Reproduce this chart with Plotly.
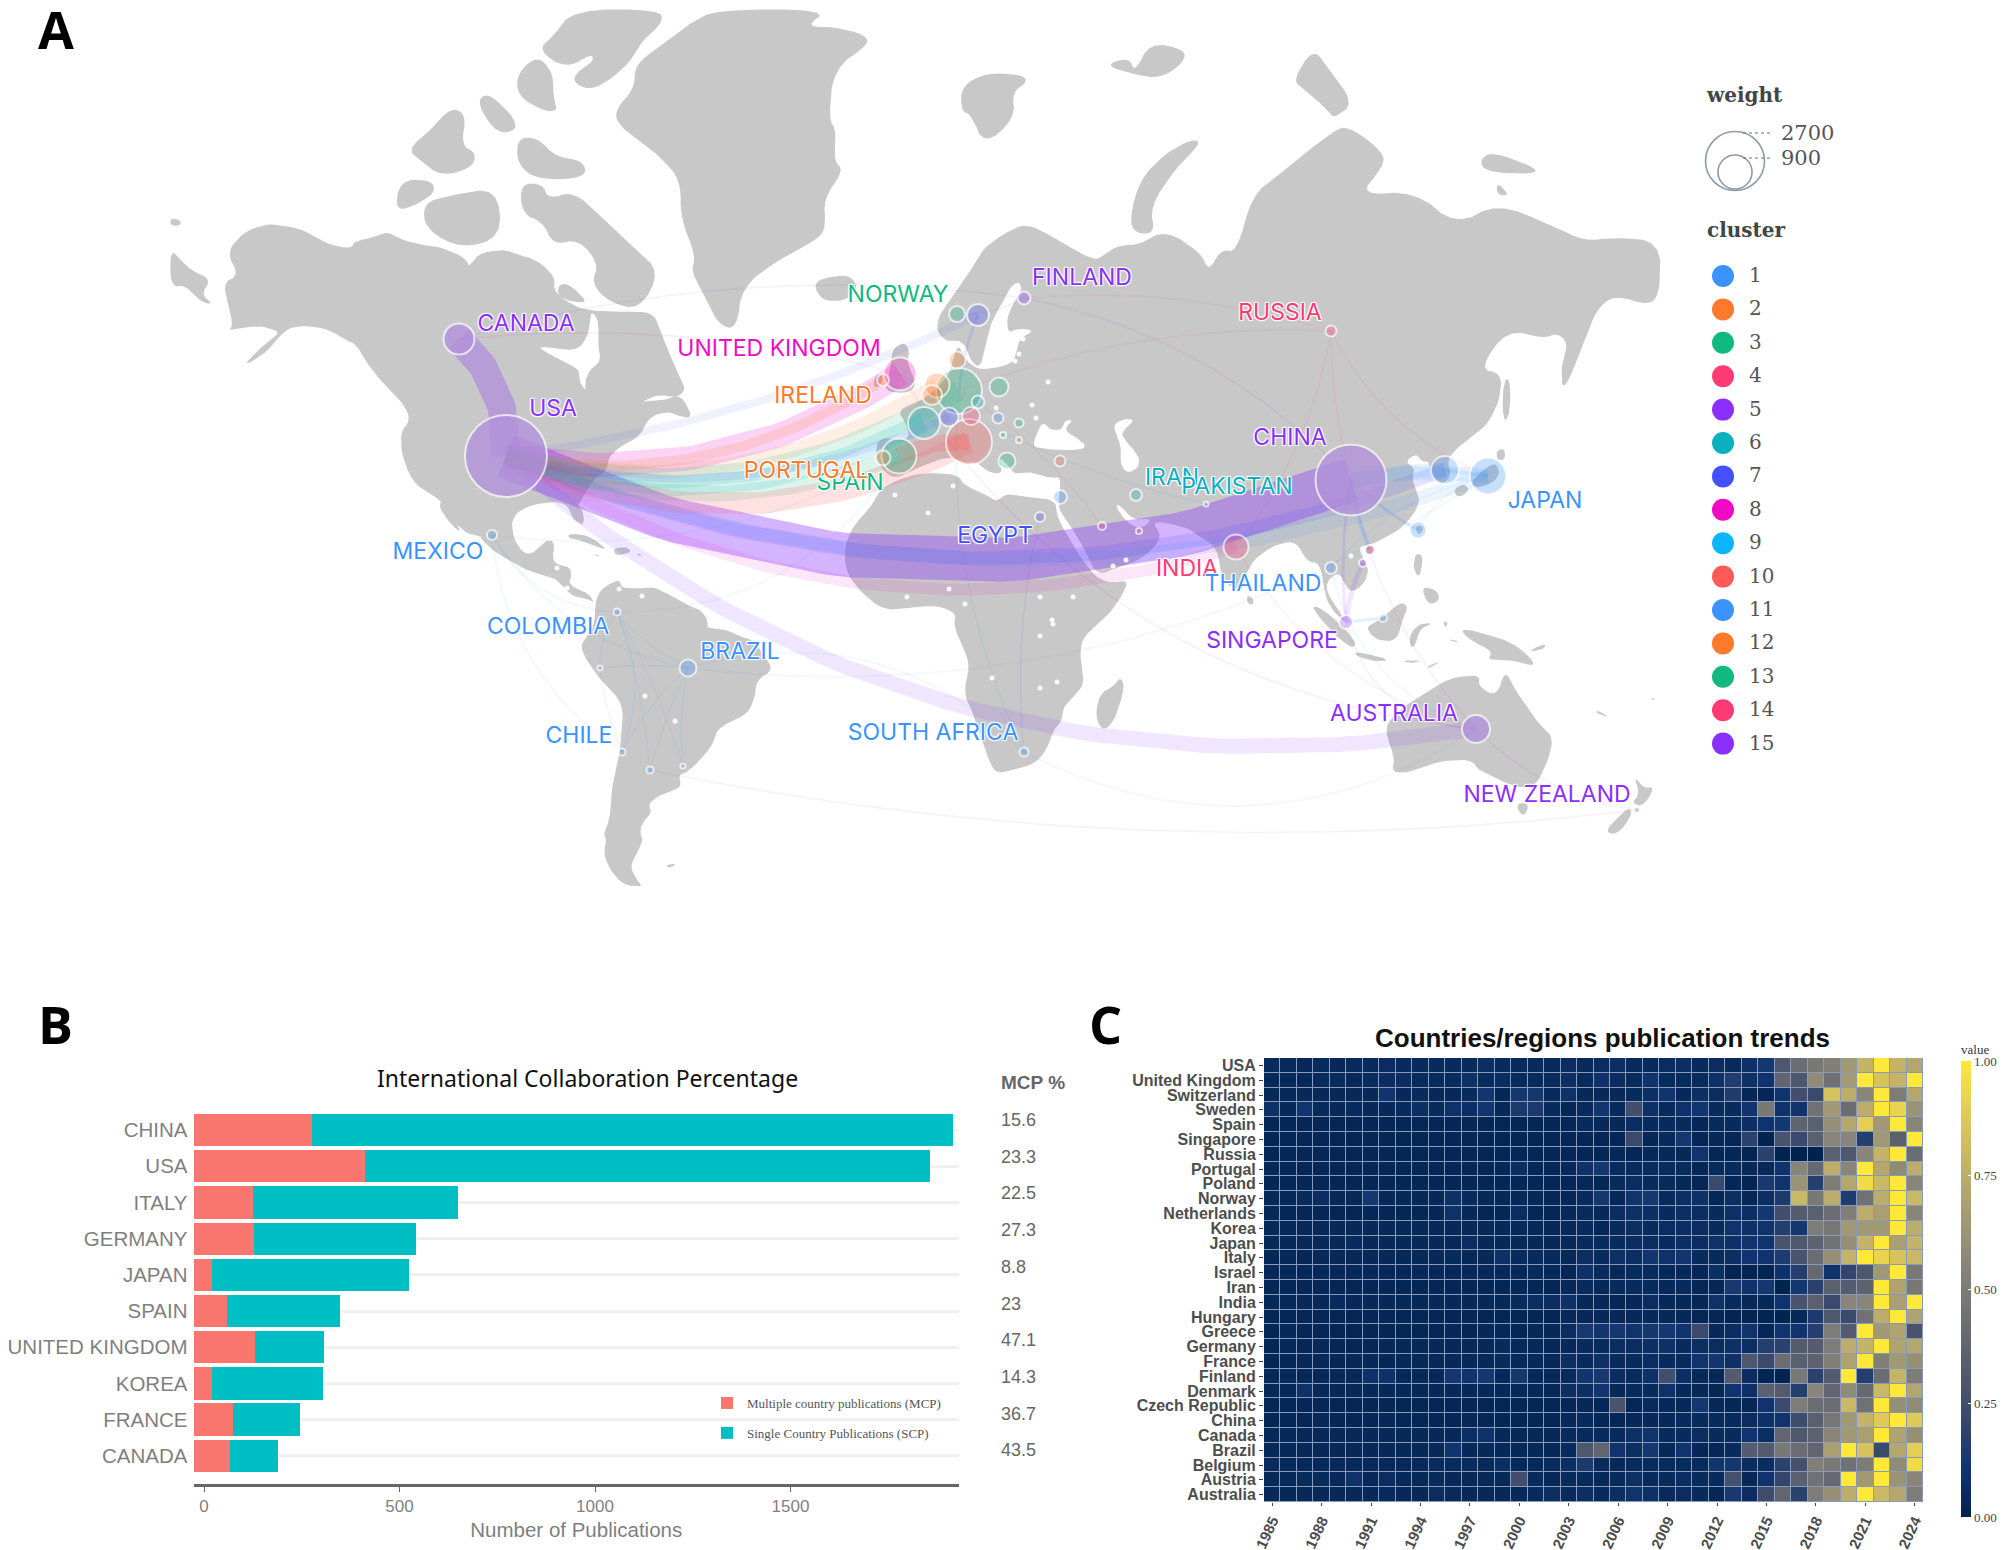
import numpy as np
import plotly.graph_objects as go

# ---------- panel A: country bubbles (map coordinates = picture pixels)
countries = ["USA", "CHINA", "GERMANY", "ITALY", "JAPAN", "SPAIN", "UK", "FRANCE", "CANADA", "KOREA",
             "AUSTRALIA", "INDIA", "NETHERLANDS", "SWEDEN", "BELGIUM", "POLAND", "SWITZERLAND", "AUSTRIA",
             "BRAZIL", "DENMARK", "GREECE", "NORWAY", "TAIWAN", "IRELAND", "PORTUGAL", "SINGAPORE", "ISRAEL",
             "FINLAND", "CZECH", "RUSSIA", "HUNGARY", "IRAN", "THAILAND", "TURKEY", "HONGKONG", "EGYPT",
             "ROMANIA", "SOUTHAFRICA", "SAUDI", "MALAYSIA", "VIETNAM", "MEXICO", "COLOMBIA", "CHILE",
             "ARGENTINA", "URUGUAY", "PERU", "NEWZEALAND", "SERBIA", "BULGARIA", "PAKISTAN", "UAE"]
bubble_x = [506, 1351, 959, 969, 1488, 899, 900, 924, 459, 1445,
            1476, 1236, 937, 978, 932, 999, 949, 971,
            688, 957, 1007, 957, 1418, 883, 883, 1346, 1060,
            1024, 978, 1331, 998, 1136, 1331, 1060, 1370, 1040,
            1019, 1024, 1102, 1383, 1363, 492, 617, 622,
            650, 683, 600, 1637, 1003, 1019, 1206, 1139]
bubble_y = [456, 480, 391, 442, 476, 456, 374, 423, 339, 470,
            729, 547, 385, 315, 395, 387, 417, 416,
            668, 360, 461, 314, 530, 380, 458, 622, 497,
            298, 402, 331, 418, 495, 568, 461, 550, 517,
            423, 752, 526, 618, 563, 535, 612, 752,
            770, 766, 668, 810, 435, 440, 504, 531]
bubble_weight = [5215, 3910, 1640, 1640, 1060, 950, 845, 795, 745, 610,
                 610, 485, 485, 375, 310, 280, 280, 250,
                 225, 225, 225, 200, 225, 110, 175, 150, 150,
                 130, 130, 95, 95, 110, 110, 95, 80, 80,
                 65, 65, 50, 50, 50, 80, 40, 40,
                 40, 20, 20, 30, 30, 30, 20, 30]
bubble_cluster = [5, 5, 3, 10, 1, 3, 8, 6, 5, 1,
                  5, 4, 2, 7, 2, 3, 7, 4,
                  1, 2, 3, 3, 1, 2, 2, 5, 1,
                  5, 6, 4, 1, 6, 1, 10, 4, 7,
                  3, 1, 4, 1, 5, 1, 1, 1,
                  1, 1, 1, 5, 3, 2, 6, 4]
# bubbles that hide the ribbons ending in them
solid_bubbles = ["USA", "CHINA", "CANADA", "AUSTRALIA"]

# the many tiny countries that are only white dots
dot_x = [1023, 1019, 1015, 1048, 1032, 1036, 996, 895, 953, 928, 1082, 1052, 1126,
         907, 949, 965, 1040, 1073, 1052, 1053, 1040, 992, 1040, 1057, 1113,
         619, 642, 645, 675, 567, 557, 1351]
dot_y = [339, 354, 361, 382, 405, 418, 408, 495, 486, 513, 445, 480, 560,
         597, 589, 604, 597, 597, 620, 624, 636, 678, 688, 682, 566,
         589, 596, 696, 721, 588, 568, 556]

cluster_names = list(range(1, 16))
cluster_colors = ["#3B93FF", "#FF7A2B", "#11B981", "#FF3A75", "#8B2FFF", "#0BB0C0", "#4450FF", "#F00BC3",
                  "#0AB4FF", "#FF5A58", "#3B93FF", "#FF7A2B", "#11B981", "#FF3A75", "#8B2FFF"]

# ribbons between countries
link_source = ["USA", "USA", "USA", "USA", "USA", "USA", "USA", "USA", "USA", "USA", "USA", "USA",
               "USA", "USA", "USA", "ITALY", "CHINA", "CHINA", "CHINA", "CHINA", "CHINA", "JAPAN", "SINGAPORE",
               "SINGAPORE", "SWEDEN"]
link_target = ["CANADA", "CHINA", "JAPAN", "KOREA", "INDIA", "AUSTRALIA", "UK", "IRELAND", "NETHERLANDS", "GERMANY",
               "FRANCE", "SPAIN", "ITALY", "SWEDEN", "SWITZERLAND", "SPAIN", "JAPAN", "KOREA", "TAIWAN", "HONGKONG",
               "SINGAPORE", "KOREA", "VIETNAM", "MALAYSIA", "GERMANY"]
link_width = [28, 44, 14, 14, 12, 15, 24, 10, 14, 20, 20, 16, 22, 8, 8, 16, 14, 14, 3, 4, 3, 4, 5, 3, 3]
link_bend = [30, 185, 188, 190, 165, 235, 80, 78, 90, 100, 90, 76, 110, 40, 80, 10, -10, -5, 6, 5, 10, 0, -6, 0, 6]
link_cluster = [5, 5, 1, 7, 8, 5, 8, 2, 2, 3, 6, 3, 10, 7, 7, 10, 1, 1, 1, 1, 5, 1, 5, 1, 7]
link_alpha = [.28, .36, .1, .15, .1, .12, .18, .16, .13, .14, .15, .15, .18, .08, .1, .25, .12, .12, .2, .2, .12, .15,
              .12, .15, .12]

faint_source = ["BRAZIL", "BRAZIL", "BRAZIL", "BRAZIL", "BRAZIL", "CHILE", "MEXICO", "MEXICO", "MEXICO", "COLOMBIA",
                "PERU", "ARGENTINA", "URUGUAY", "RUSSIA", "RUSSIA", "RUSSIA", "RUSSIA", "RUSSIA", "AUSTRALIA",
                "CHINA", "SINGAPORE", "JAPAN", "JAPAN", "SOUTHAFRICA", "SOUTHAFRICA", "GERMANY", "CANADA", "CANADA",
                "ARGENTINA", "BRAZIL", "COLOMBIA", "UK", "SAUDI", "INDIA", "EGYPT", "FINLAND", "THAILAND", "MEXICO",
                "PAKISTAN", "NORWAY"]
faint_target = ["CHILE", "ARGENTINA", "COLOMBIA", "PERU", "URUGUAY", "COLOMBIA", "COLOMBIA", "CHILE", "BRAZIL", "PERU",
                "CHILE", "COLOMBIA", "COLOMBIA", "CHINA", "INDIA", "FINLAND", "GERMANY", "JAPAN", "NEWZEALAND",
                "AUSTRALIA", "AUSTRALIA", "TAIWAN", "THAILAND", "BRAZIL", "AUSTRALIA", "SOUTHAFRICA", "FINLAND", "UK",
                "NEWZEALAND", "JAPAN", "SPAIN", "AUSTRALIA", "GERMANY", "AUSTRALIA", "SOUTHAFRICA", "CHINA",
                "AUSTRALIA", "SPAIN", "UK", "FINLAND"]
faint_bend = [10, 5, -10, 5, 8, 30, 40, 60, 50, 10, 6, 10, 8, 10, -30, 30, 40, 40, 30, 40, 60, 20, 30, 100, 130,
              50, -60, -40, 80, 150, 90, 160, 20, 60, 20, -60, 60, 70, -30, 10]
faint_cluster = [1, 1, 1, 1, 1, 1, 1, 1, 1, 1, 1, 1, 1, 4, 4, 4, 4, 4, 5, 5, 5, 1, 1, 1, 1, 3, 5, 8, 5, 1, 1, 8, 4,
                 4, 7, 5, 1, 1, 6, 7]

label_text = ["CANADA", "USA", "MEXICO", "COLOMBIA", "BRAZIL", "CHILE", "NORWAY", "FINLAND", "UNITED KINGDOM",
              "IRELAND", "SPAIN", "PORTUGAL", "RUSSIA", "CHINA", "IRAN", "PAKISTAN", "EGYPT", "INDIA", "THAILAND",
              "JAPAN", "SINGAPORE", "AUSTRALIA", "NEW ZEALAND", "SOUTH AFRICA"]
label_x = [526, 553, 438, 548, 740, 579, 898, 1082, 779, 823, 850, 806, 1280, 1290, 1172, 1237, 995, 1187, 1263,
           1545, 1272, 1394, 1547, 933]
label_y = [325, 410, 553, 628, 653, 737, 296, 279, 350, 397, 484, 472, 314, 439, 479, 488, 537, 570, 585, 502, 642,
           715, 796, 734]
label_cluster = [5, 5, 1, 1, 1, 1, 3, 5, 8, 2, 3, 2, 4, 5, 6, 6, 7, 4, 1, 1, 5, 5, 5, 1]

weight_legend = [2700, 900]

# ---------- panel B
bar_countries = ["CHINA", "USA", "ITALY", "GERMANY", "JAPAN", "SPAIN", "UNITED KINGDOM", "KOREA", "FRANCE", "CANADA"]
mcp = [303, 439, 152, 155, 48, 86, 158, 47, 100, 94]
scp = [1640, 1446, 524, 414, 503, 288, 177, 284, 173, 122]
mcp_percent = ["15.6", "23.3", "22.5", "27.3", "8.8", "23", "47.1", "14.3", "36.7", "43.5"]
bar_ticks = [0, 500, 1000, 1500]

# ---------- panel C
years = list(range(1985, 2025))
heat_countries = ["USA", "United Kingdom", "Switzerland", "Sweden", "Spain", "Singapore", "Russia", "Portugal",
                  "Poland", "Norway", "Netherlands", "Korea", "Japan", "Italy", "Israel", "Iran", "India", "Hungary",
                  "Greece", "Germany", "France", "Finland", "Denmark", "Czech Republic", "China", "Canada", "Brazil",
                  "Belgium", "Austria", "Australia"]
# 1985-2002
heat_early = [
    [.05, .05, .04, .05, .04, .05, .05, .06, .05, .05, .05, .05, .05, .07, .05, .05, .05, .05],
    [.04, .04, .04, .05, .05, .04, .05, .06, .06, .05, .05, .05, .08, .05, .06, .05, .05, .05],
    [.04, .04, .04, .04, .04, .04, .04, .10, .04, .05, .04, .04, .05, .11, .03, .12, .12, .05],
    [.08, .04, .11, .05, .04, .05, .04, .04, .05, .07, .05, .09, .07, .11, .04, .14, .14, .05],
    [.03, .03, .03, .03, .03, .03, .03, .03, .03, .03, .03, .03, .03, .03, .03, .03, .03, .03],
    [.03, .03, .03, .03, .03, .03, .03, .03, .03, .03, .03, .03, .03, .03, .03, .03, .03, .03],
    [.03, .03, .03, .03, .03, .03, .03, .03, .03, .03, .03, .03, .03, .03, .03, .03, .03, .03],
    [.04, .03, .03, .03, .03, .03, .03, .03, .03, .03, .03, .03, .03, .03, .03, .06, .03, .03],
    [.03, .03, .03, .03, .03, .03, .03, .03, .03, .03, .03, .03, .03, .03, .03, .03, .03, .03],
    [.04, .04, .05, .06, .04, .04, .12, .04, .04, .04, .04, .08, .05, .04, .04, .04, .04, .04],
    [.04, .03, .03, .03, .03, .03, .03, .03, .03, .03, .03, .09, .04, .03, .03, .06, .03, .03],
    [.04, .04, .04, .04, .04, .04, .04, .04, .04, .04, .04, .04, .04, .04, .04, .04, .04, .04],
    [.04, .04, .04, .04, .04, .05, .04, .04, .04, .04, .04, .04, .06, .04, .04, .04, .04, .04],
    [.03, .04, .03, .04, .04, .04, .04, .04, .04, .04, .04, .05, .04, .04, .08, .05, .05, .05],
    [.04, .04, .04, .04, .04, .04, .04, .04, .04, .04, .04, .04, .04, .04, .04, .04, .05, .04],
    [.03, .03, .03, .03, .03, .03, .03, .03, .03, .03, .03, .03, .03, .03, .03, .03, .03, .03],
    [.04, .04, .04, .04, .05, .04, .04, .04, .04, .04, .04, .04, .04, .04, .04, .05, .06, .06],
    [.03, .03, .03, .03, .03, .03, .03, .03, .03, .03, .03, .03, .03, .03, .03, .03, .03, .03],
    [.03, .04, .03, .03, .03, .03, .03, .03, .03, .03, .03, .04, .03, .04, .04, .03, .04, .04],
    [.03, .04, .03, .04, .03, .03, .03, .04, .04, .04, .04, .04, .04, .04, .05, .04, .04, .04],
    [.03, .03, .04, .04, .03, .04, .04, .03, .04, .04, .04, .04, .04, .04, .05, .04, .04, .04],
    [.04, .04, .04, .04, .04, .04, .08, .09, .04, .04, .04, .12, .10, .12, .04, .12, .04, .04],
    [.04, .04, .09, .04, .04, .04, .04, .04, .04, .04, .04, .04, .04, .04, .04, .04, .04, .04],
    [.03, .03, .03, .03, .03, .03, .03, .03, .03, .03, .03, .03, .03, .03, .03, .03, .03, .03],
    [.03, .03, .03, .04, .03, .03, .03, .04, .03, .03, .03, .03, .04, .03, .03, .03, .03, .03],
    [.04, .04, .04, .04, .04, .04, .04, .04, .04, .04, .04, .04, .07, .09, .04, .04, .04, .04],
    [.04, .04, .04, .04, .04, .04, .04, .04, .04, .04, .04, .10, .04, .04, .04, .04, .04, .04],
    [.05, .04, .04, .04, .04, .04, .04, .04, .04, .04, .05, .05, .05, .04, .07, .04, .04, .05],
    [.04, .04, .05, .05, .04, .09, .04, .06, .04, .04, .05, .04, .04, .04, .04, .25, .05, .04],
    [.04, .04, .04, .04, .04, .04, .04, .05, .04, .04, .06, .05, .04, .04, .04, .04, .05, .07],
]
# 2003-2024
heat_late = [
    [.06, .05, .06, .07, .05, .05, .06, .07, .05, .06, .05, .08, .12, .30, .42, .48, .52, .65, .78, 1.0, .78, .72],
    [.07, .05, .09, .06, .05, .10, .05, .05, .05, .08, .15, .08, .10, .38, .30, .58, .45, .66, 1.0, .85, .78, 1.0],
    [.09, .04, .04, .04, .05, .07, .10, .04, .07, .06, .15, .03, .03, .10, .25, .22, .85, .75, .55, 1.0, .50, .72],
    [.03, .05, .11, .05, .25, .08, .05, .09, .11, .05, .05, .10, .48, .09, .10, .45, .65, .42, .75, 1.0, .92, .62],
    [.03, .05, .04, .04, .06, .05, .05, .05, .03, .05, .05, .07, .10, .12, .37, .35, .60, .72, .90, .65, 1.0, .55],
    [.03, .03, .03, .03, .22, .03, .05, .12, .03, .04, .03, .18, .01, .28, .22, .35, .55, .55, .16, .65, .35, 1.0],
    [.03, .03, .03, .04, .03, .04, .04, .04, .10, .03, .03, .02, .18, .01, .00, .00, .35, .30, .55, .78, 1.0, .42],
    [.04, .09, .12, .05, .05, .05, .05, .05, .03, .05, .05, .04, .04, .10, .55, .40, .75, .55, 1.0, .72, .58, .75],
    [.03, .04, .03, .05, .06, .05, .05, .04, .03, .22, .03, .02, .13, .10, .62, .16, .50, .72, .95, .80, 1.0, .55],
    [.03, .05, .12, .04, .10, .12, .05, .07, .08, .03, .07, .03, .07, .14, .80, .48, .75, .15, .45, .75, 1.0, .80],
    [.04, .05, .04, .06, .08, .07, .05, .07, .06, .05, .08, .07, .12, .25, .33, .35, .42, .52, .75, .68, 1.0, .55],
    [.04, .05, .03, .05, .07, .05, .06, .07, .06, .05, .10, .08, .10, .16, .12, .50, .48, .65, .65, .65, 1.0, .75],
    [.04, .05, .05, .05, .06, .06, .05, .07, .06, .09, .08, .10, .10, .28, .30, .36, .45, .60, .78, 1.0, .68, .78],
    [.04, .07, .05, .08, .07, .11, .09, .11, .05, .05, .07, .10, .10, .15, .28, .42, .60, .78, 1.0, .92, .85, .80],
    [.03, .08, .05, .04, .05, .05, .04, .04, .03, .07, .02, .02, .02, .09, .16, .40, .10, .20, .30, .65, 1.0, .48],
    [.04, .05, .04, .05, .05, .05, .04, .05, .03, .03, .13, .09, .12, .01, .12, .18, .35, .33, .36, 1.0, .70, .48],
    [.08, .04, .04, .03, .04, .06, .04, .04, .03, .09, .05, .04, .04, .10, .28, .35, .22, .55, .55, 1.0, .68, 1.0],
    [.04, .04, .04, .04, .04, .04, .04, .04, .03, .03, .02, .02, .02, .01, .04, .14, .30, .22, .45, .75, 1.0, .70],
    [.06, .13, .11, .12, .10, .12, .12, .10, .22, .04, .06, .10, .03, .10, .10, .16, .50, .32, 1.0, .65, .70, .28],
    [.04, .05, .05, .06, .06, .07, .08, .05, .07, .06, .08, .07, .16, .18, .32, .33, .50, .75, .78, 1.0, .70, .72],
    [.07, .05, .08, .05, .05, .06, .05, .05, .10, .11, .08, .30, .22, .42, .35, .36, .52, .70, 1.0, .52, .65, .60],
    [.05, .11, .13, .06, .05, .09, .25, .07, .04, .04, .32, .06, .02, .01, .48, .18, .32, 1.0, .16, .42, .78, .50],
    [.07, .07, .11, .04, .05, .05, .09, .04, .04, .03, .10, .08, .35, .32, .16, .55, .38, .58, .40, .80, 1.0, .72],
    [.03, .04, .03, .28, .03, .05, .04, .04, .12, .04, .03, .03, .10, .22, .50, .42, .42, .80, .45, 1.0, .60, .58],
    [.04, .05, .03, .03, .04, .04, .04, .05, .05, .05, .05, .06, .08, .10, .24, .35, .48, .65, .78, .88, 1.0, .88],
    [.05, .05, .05, .05, .08, .10, .05, .05, .06, .05, .05, .10, .07, .38, .30, .36, .55, .65, .68, 1.0, .70, .60],
    [.05, .30, .38, .10, .07, .12, .04, .10, .03, .03, .05, .33, .32, .48, .42, .38, .68, 1.0, .85, .22, .72, .90],
    [.07, .14, .05, .04, .05, .05, .05, .05, .05, .11, .12, .06, .06, .18, .26, .52, .48, .45, .50, 1.0, .58, .95],
    [.05, .05, .04, .05, .08, .05, .05, .06, .05, .05, .26, .04, .10, .20, .35, .45, .40, 1.0, .65, 1.0, .62, .55],
    [.05, .07, .05, .07, .10, .08, .05, .06, .05, .03, .13, .06, .24, .38, .18, .50, .60, .75, 1.0, .80, .72, .50],
]
heat_values = [e + l for e, l in zip(heat_early, heat_late)]


def z4(p):
    return [(750 + x / 3, 260 + y / 3) for x, y in p]
def z6(p):
    return [(150 + x / 1.96, y / 2.613) for x, y in p]
def z7(p):
    return [(900 + x / 1.96, y / 2.613) for x, y in p]
def z8(p):
    return [(440 + x / 3, 500 + y / 3) for x, y in p]
def z9(p):
    return [(780 + x / 3, 420 + y / 3) for x, y in p]
def z10(p):
    return [(1230 + x / 3, 430 + y / 3) for x, y in p]


north_america = z6([(150, 660), (180, 610), (225, 585), (265, 590), (300, 600), (350, 640), (395, 650), (400, 630),
                    (440, 620), (465, 605), (490, 625), (530, 640), (570, 645), (620, 675), (625, 700), (640, 665),
                    (690, 650), (720, 665), (760, 680), (795, 725), (790, 760), (830, 800), (865, 812), (930, 815),
                    (985, 815), (1000, 860), (1010, 900), (1040, 990), (1050, 1020), (1030, 1040), (1000, 1030),
                    (960, 1050), (985, 1048), (1010, 1045), (1040, 1030), (1065, 1090), (1040, 1090), (1020, 1075),
                    (985, 1085), (970, 1110), (960, 1140), (930, 1160), (900, 1190), (895, 1230), (870, 1250),
                    (848, 1300), (835, 1330), (850, 1370), (830, 1360), (815, 1310), (760, 1315), (730, 1330),
                    (712, 1350), (700, 1420), (640, 1400), (615, 1390), (590, 1350), (570, 1305), (520, 1270),
                    (495, 1200), (490, 1130), (510, 1100), (500, 1060), (470, 1020), (430, 960), (405, 900),
                    (385, 890), (350, 860), (300, 850), (265, 860), (230, 920), (180, 960), (215, 910), (255, 870),
                    (240, 860), (210, 850), (150, 865), (165, 850), (140, 740), (175, 720)])
baja = z6([(575, 1300), (590, 1340), (612, 1395), (590, 1370), (565, 1325)])
chukotka = z6([(40, 650), (60, 680), (85, 710), (120, 730), (100, 770), (125, 795), (100, 790), (70, 745), (40, 750)])
wrangel = z6([(40, 570), (60, 575), (60, 590), (40, 590)])
greenland = z6([(1060, 60), (1110, 25), (1330, 25), (1285, 70), (1340, 70), (1400, 90), (1410, 115), (1340, 180),
                 (1330, 310), (1345, 340), (1340, 420), (1360, 445), (1320, 520), (1325, 590), (1310, 625),
                 (1230, 680), (1160, 750), (1150, 860), (1115, 850), (1090, 780), (1060, 710), (1070, 670),
                 (1040, 570), (1040, 470), (1000, 410), (980, 390), (920, 330), (910, 290), (950, 230), (950, 170),
                 (1000, 120), (1040, 80)])
arctic_islands = [
    z6([(830, 25), (1000, 25), (1005, 60), (965, 105), (940, 165), (895, 215), (860, 235), (830, 215), (835, 190),
        (870, 160), (865, 140), (815, 180), (760, 130), (790, 95)]),
    z6([(720, 190), (760, 145), (790, 190), (790, 250), (800, 290), (770, 290), (720, 250)]),
    z6([(640, 270), (660, 240), (710, 300), (720, 340), (680, 350)]),
    z6([(505, 390), (550, 340), (590, 280), (620, 300), (610, 380), (640, 400), (630, 440), (570, 460), (530, 420)]),
    z6([(720, 360), (760, 360), (795, 410), (850, 420), (855, 465), (760, 470), (720, 430)]),
    z6([(535, 530), (590, 510), (680, 490), (690, 620), (610, 650), (540, 600)]),
    z6([(725, 480), (770, 480), (780, 520), (830, 500), (880, 560), (950, 650), (1000, 710), (960, 810), (900, 790),
        (865, 740), (880, 690), (840, 625), (790, 640), (770, 580), (730, 560)]),
    z6([(490, 470), (550, 470), (560, 500), (530, 530), (480, 555)]),
    z6([(800, 745), (820, 740), (860, 790), (830, 790), (800, 775)]),
    z6([(875, 660), (900, 680), (880, 700), (870, 685)]),
]
central_america = z8([(30, -30), (215, -20), (215, 100), (240, 150), (270, 165), (300, 140), (320, 120), (345, 125),
                      (335, 190), (390, 200), (395, 230), (385, 250), (415, 270), (445, 280), (465, 310), (440, 295),
                      (400, 290), (375, 265), (345, 235), (320, 230), (260, 210), (225, 190), (170, 160), (135, 130),
                      (105, 90), (65, 45), (30, 0)])
florida = z8([(395, 0), (430, 30), (432, 70), (420, 75), (400, 40)])
caribbean = [z8([(385, 100), (440, 105), (480, 130), (500, 150), (460, 135), (420, 120), (385, 115)]),
             z8([(520, 145), (560, 140), (575, 155), (545, 165), (525, 165)]),
             z8([(460, 163), (480, 165), (475, 170)]),
             z8([(590, 160), (610, 165), (595, 168)])]
south_america = z8([(465, 310), (480, 270), (520, 245), (540, 240), (545, 265), (600, 265), (640, 260), (690, 285),
                    (740, 315), (785, 330), (805, 365), (800, 385), (850, 385), (900, 410), (940, 420), (975, 470),
                    (1000, 510), (950, 540), (945, 590), (925, 640), (870, 665), (830, 690), (820, 730), (790, 770),
                    (745, 815), (715, 825), (725, 860), (690, 875), (660, 885), (625, 910), (635, 940), (605, 970),
                    (600, 1000), (610, 1020), (590, 1060), (570, 1100), (590, 1140), (610, 1160), (550, 1155),
                    (510, 1110), (490, 1060), (500, 1020), (490, 1000), (510, 960), (515, 860), (535, 790),
                    (545, 700), (550, 610), (490, 550), (445, 490), (420, 440), (440, 410), (465, 370)])
falkland = z8([(675, 1095), (710, 1090), (690, 1105)])
africa = z9([(300, 210), (350, 180), (420, 160), (500, 160), (540, 170), (550, 195), (620, 225), (650, 245),
             (680, 220), (735, 230), (800, 235), (830, 250), (830, 290), (870, 360), (900, 410), (945, 470),
             (990, 490), (1045, 480), (1030, 520), (990, 580), (950, 610), (905, 660), (900, 710), (915, 790),
             (880, 830), (850, 860), (848, 900), (820, 930), (810, 970), (770, 1030), (700, 1050), (650, 1060),
             (630, 1030), (610, 970), (580, 880), (550, 820), (570, 740), (550, 680), (520, 620), (530, 580),
             (470, 555), (380, 565), (310, 570), (240, 515), (195, 450), (195, 370), (225, 310), (270, 265)])
madagascar = z9([(1020, 770), (1035, 800), (1005, 900), (970, 935), (945, 890), (960, 820), (1000, 800)])
eurasia = (
    z4([(375, 590), (385, 530), (480, 545), (470, 490), (440, 450), (520, 420), (575, 370), (600, 340), (610, 290),
        (625, 255), (640, 285), (665, 320), (710, 330), (790, 310), (800, 270), (810, 235), (855, 210), (800, 205),
        (775, 220), (770, 175), (790, 130), (815, 95), (810, 65), (785, 75), (765, 115), (735, 165), (720, 200),
        (705, 265), (690, 325), (660, 300), (650, 260), (625, 240), (590, 245), (560, 215), (565, 170), (600, 120),
        (650, 50), (680, 0)])
    + z7([(170, 640), (230, 590), (260, 590), (300, 620), (350, 660), (385, 680), (400, 665), (430, 640), (470, 640),
          (520, 600), (590, 660), (605, 710), (630, 650), (660, 660), (690, 510), (740, 460), (850, 340), (880, 330),
          (950, 400), (945, 440), (900, 510), (1010, 500), (1090, 590), (1170, 530), (1280, 590), (1340, 630),
          (1400, 620), (1490, 630), (1490, 760), (1470, 800), (1400, 770), (1365, 810), (1345, 880), (1300, 1030),
          (1295, 960), (1310, 900), (1290, 870), (1260, 885), (1190, 860), (1135, 965), (1180, 975), (1175, 1050),
          (1150, 1110)])
    + z10([(750, 0), (690, 45), (650, 90), (665, 130), (640, 165), (610, 150), (600, 95), (575, 95), (560, 70),
           (525, 95), (555, 115), (545, 150), (570, 200), (560, 240), (520, 290), (470, 320), (420, 345), (385, 350),
           (400, 385), (418, 420), (400, 465), (365, 487), (345, 465), (330, 430), (300, 440), (285, 480), (330, 545),
           (350, 580), (310, 545), (285, 500), (272, 400), (230, 395), (200, 335), (150, 340), (110, 360), (60, 400),
           (30, 490), (-24, 450), (-39, 351), (-90, 321), (-129, 291), (-240, 270)])
    + z9([(1150, 350), (1090, 415), (1010, 445), (950, 465), (920, 400), (880, 330), (840, 275), (835, 250)])
    + z4([(935, 650), (900, 655), (840, 635), (815, 640), (790, 640), (770, 610), (745, 590), (760, 640), (720, 640),
          (680, 605), (640, 610), (610, 590), (560, 600), (500, 625), (440, 655), (405, 640)])
)
other_land = [
    z4([(425, 270), (460, 245), (480, 270), (470, 310), (500, 370), (480, 400), (400, 395), (420, 340)]),
    z4([(375, 345), (400, 340), (395, 375), (370, 385)]),
    z4([(195, 65), (240, 50), (300, 45), (325, 85), (290, 120), (230, 125), (200, 100)]),
    z7([(120, 225), (170, 190), (240, 195), (250, 215), (220, 240), (225, 310), (165, 380), (140, 300), (120, 290)]),
    z7([(400, 170), (450, 150), (460, 190), (490, 110), (560, 130), (555, 165), (510, 205), (460, 195)]),
    z7([(450, 570), (470, 470), (520, 400), (575, 362), (590, 375), (540, 440), (490, 540), (500, 610), (460, 610)]),
    z7([(770, 210), (810, 125), (840, 180), (890, 270), (850, 310), (840, 290), (790, 230)]),
    z7([(1135, 420), (1160, 395), (1250, 440), (1240, 455), (1150, 450)]),
    z7([(1170, 475), (1195, 510), (1170, 510)]),
    z7([(1185, 985), (1197, 1000), (1195, 1080), (1185, 1105), (1180, 1060)]),
    z10([(800, 60), (825, 55), (825, 90), (800, 90)]),
    z10([(725, 150), (790, 95), (810, 120), (800, 150), (760, 170), (730, 170)]),
    z10([(670, 180), (700, 160), (720, 180), (685, 205)]),
    z10([(240, 530), (270, 530), (340, 590), (380, 640), (365, 655), (320, 620)]),
    z10([(375, 665), (430, 675), (480, 690), (440, 695), (380, 680)]),
    z10([(410, 590), (450, 570), (510, 515), (535, 530), (520, 560), (500, 635), (440, 630), (420, 610)]),
    z10([(540, 610), (570, 580), (610, 580), (570, 595), (555, 650), (540, 650)]),
    z10([(555, 370), (580, 375), (570, 445), (550, 420)]),
    z10([(580, 470), (620, 480), (630, 510), (600, 525), (580, 495)]),
    z10([(690, 600), (725, 600), (770, 615), (830, 630), (890, 670), (920, 712), (850, 690), (770, 690), (790, 665),
         (720, 630)]),
    z10([(590, 710), (635, 690), (600, 715)]),
    z10([(510, 692), (580, 690), (550, 700)]),
    z10([(640, 570), (655, 580), (645, 595)]),
    z10([(650, 628), (685, 632), (680, 638)]),
    z10([(900, 660), (945, 640), (945, 655), (910, 665)]),
    z10([(555, 285), (585, 290), (565, 320)]),
    z10([(405, 355), (430, 345), (430, 370), (410, 372)]),
    z10([(50, 495), (70, 505), (70, 525), (52, 520)]),
    z10([(570, 800), (630, 760), (680, 740), (750, 735), (745, 770), (800, 800), (825, 720), (850, 770), (890, 830),
         (925, 880), (965, 915), (965, 960), (925, 1060), (880, 1075), (830, 1060), (790, 1040), (770, 1030),
         (745, 1020), (725, 990), (660, 990), (610, 1000), (530, 1030), (485, 1025), (495, 985), (470, 920),
         (470, 880), (520, 830)]),
    z10([(855, 1120), (900, 1120), (880, 1165)]),
    z10([(1210, 1035), (1240, 1075), (1275, 1070), (1240, 1130), (1205, 1120), (1230, 1090)]),
    z10([(1200, 1130), (1205, 1160), (1160, 1215), (1125, 1205), (1160, 1165)]),
    z10([(1100, 840), (1130, 855), (1130, 860), (1100, 850)]),
    z10([(1260, 805), (1278, 805), (1270, 810)]),
]
seas = [
    z4([(845, 560), (870, 495), (885, 490), (900, 510), (935, 510), (945, 480), (970, 480), (940, 510), (985, 535),
        (1010, 565), (970, 570), (920, 570), (880, 565)]),
    z4([(1085, 495), (1125, 475), (1155, 480), (1120, 510), (1115, 530), (1170, 590), (1165, 625), (1130, 640),
        (1110, 610), (1115, 560)]),
    z9([(1005, 255), (1020, 255), (1060, 300), (1105, 295), (1110, 305), (1085, 325), (1060, 318), (1030, 295)]),
    z6([(866, 812), (880, 840), (878, 900), (884, 945), (862, 965), (852, 1000), (855, 1022), (842, 1000), (842, 965),
        (810, 945), (775, 920), (760, 905), (800, 912), (838, 915), (858, 880), (862, 840)]),
]


def round_corners(p, passes=2):
    # corner cutting, takes the straight-edged look off the hand read outlines
    for _ in range(passes):
        out = []
        for i in range(len(p)):
            a, b = p[i], p[(i + 1) % len(p)]
            out.append((a[0] * .75 + b[0] * .25, a[1] * .75 + b[1] * .25))
            out.append((a[0] * .25 + b[0] * .75, a[1] * .25 + b[1] * .75))
        p = out
    return p


def polys_to_xy(polys):
    xs, ys = [], []
    for p in polys:
        p = round_corners(p)
        xs += [q[0] for q in p] + [p[0][0], None]
        ys += [q[1] for q in p] + [p[0][1], None]
    return xs, ys


def rgba(hexcol, a):
    h = hexcol.lstrip("#")
    return "rgba(%d,%d,%d,%s)" % (int(h[0:2], 16), int(h[2:4], 16), int(h[4:6], 16), a)


def arc(a, b, bend):
    ax, ay, bx, by = a[0], a[1], b[0], b[1]
    d = max(np.hypot(bx - ax, by - ay), 1)
    cx = (ax + bx) / 2 - (by - ay) / d * bend
    cy = (ay + by) / 2 + (bx - ax) / d * bend
    t = np.linspace(0, 1, 40)
    return (1 - t) ** 2 * ax + 2 * t * (1 - t) * cx + t ** 2 * bx, (1 - t) ** 2 * ay + 2 * t * (1 - t) * cy + t ** 2 * by


pos = {c: (x, y) for c, x, y in zip(countries, bubble_x, bubble_y)}
weight_of = dict(zip(countries, bubble_weight))
SIZEREF = 1.551  # 2700 gives a 59 px circle

fig = go.Figure()

land = [north_america, baja, chukotka, wrangel, greenland, central_america, florida, south_america, falkland,
        africa, madagascar, eurasia] + arctic_islands + caribbean + other_land
lx, ly = polys_to_xy(land)
fig.add_trace(go.Scatter(x=lx, y=ly, mode="lines", fill="toself", fillcolor="#c8c8c8", line=dict(width=0),
                         hoverinfo="skip", showlegend=False))
sx, sy = polys_to_xy(seas)
fig.add_trace(go.Scatter(x=sx, y=sy, mode="lines", fill="toself", fillcolor="#ffffff", line=dict(width=0),
                         hoverinfo="skip", showlegend=False))

for a, b, be, cl in zip(faint_source, faint_target, faint_bend, faint_cluster):
    ax_, ay_ = arc(pos[a], pos[b], be)
    fig.add_trace(go.Scatter(x=ax_, y=ay_, mode="lines", hoverinfo="skip", showlegend=False,
                             line=dict(width=1.6, color=rgba(cluster_colors[cl - 1], .08))))
for a, b, w, be, cl, al in zip(link_source, link_target, link_width, link_bend, link_cluster, link_alpha):
    ax_, ay_ = arc(pos[a], pos[b], be)
    fig.add_trace(go.Scatter(x=ax_, y=ay_, mode="lines", hoverinfo="skip", showlegend=False,
                             line=dict(width=w, color=rgba(cluster_colors[cl - 1], al))))

fig.add_trace(go.Scatter(x=dot_x, y=dot_y, mode="markers", hoverinfo="skip", showlegend=False,
                         marker=dict(size=5, color="rgba(255,255,255,.9)", line=dict(width=0))))
fig.add_trace(go.Scatter(x=[pos[c][0] for c in solid_bubbles], y=[pos[c][1] for c in solid_bubbles], mode="markers",
                         hoverinfo="skip", showlegend=False,
                         marker=dict(size=[weight_of[c] for c in solid_bubbles], sizemode="area", sizeref=SIZEREF,
                                     color="#c8c8c8", line=dict(width=0))))
fig.add_trace(go.Scatter(x=bubble_x, y=bubble_y, mode="markers", text=countries, hoverinfo="text", showlegend=False,
                         marker=dict(size=bubble_weight, sizemode="area", sizeref=SIZEREF,
                                     color=[rgba(cluster_colors[c - 1], .4) for c in bubble_cluster],
                                     line=dict(width=2, color="rgba(255,255,255,.95)"))))

halo = "1px 1px 1px #fff, -1px -1px 1px #fff, 1px -1px 1px #fff, -1px 1px 1px #fff"
fig.add_trace(go.Scatter(x=label_x, y=label_y, text=label_text, mode="text", hoverinfo="skip", showlegend=False,
                         textposition="middle center",
                         textfont=dict(family="Inter", size=23, shadow=halo,
                                       color=[cluster_colors[c - 1] for c in label_cluster])))

# weight and cluster keys of panel A
serif = "DejaVu Serif"
fig.add_trace(go.Scatter(x=[1735, 1735], y=[161, 172], mode="markers", hoverinfo="skip", showlegend=False,
                         marker=dict(size=weight_legend, sizemode="area", sizeref=SIZEREF, color="rgba(0,0,0,0)",
                                     line=dict(width=1.6, color="#5d7284"))))
fig.add_trace(go.Scatter(x=[1743, 1773, None, 1743, 1773], y=[133, 133, None, 158, 158], mode="lines",
                         hoverinfo="skip", showlegend=False, line=dict(width=1, color="#5d7284", dash="dot")))
fig.add_trace(go.Scatter(x=[1781, 1781], y=[135, 160], mode="text", text=[str(w) for w in weight_legend],
                         textposition="middle right", hoverinfo="skip", showlegend=False,
                         textfont=dict(family=serif, size=21, color="#555555")))
fig.add_trace(go.Scatter(x=[1707, 1707], y=[97, 232], mode="text", text=["<b>weight</b>", "<b>cluster</b>"],
                         textposition="middle right", hoverinfo="skip", showlegend=False,
                         textfont=dict(family=serif, size=20, color="#444444")))
fig.add_trace(go.Scatter(x=[1723] * 15, y=[276 + 33.4 * i for i in range(15)], mode="markers", hoverinfo="skip",
                         showlegend=False, marker=dict(size=22, color=cluster_colors)))
fig.add_trace(go.Scatter(x=[1749] * 15, y=[277 + 33.4 * i for i in range(15)], mode="text",
                         text=[str(c) for c in cluster_names], textposition="middle right", hoverinfo="skip",
                         showlegend=False, textfont=dict(family=serif, size=20, color="#555555")))

# panel B
fig.add_trace(go.Bar(y=bar_countries, x=mcp, orientation="h", name="Multiple country publications (MCP)",
                     marker=dict(color="#F8766D", line=dict(width=0)), xaxis="x2", yaxis="y2", legendgroup="mcp"))
fig.add_trace(go.Bar(y=bar_countries, x=scp, orientation="h", name="Single Country Publications (SCP)",
                     marker=dict(color="#00BFC4", line=dict(width=0)), xaxis="x2", yaxis="y2", legendgroup="scp"))

# panel C
fig.add_trace(go.Heatmap(z=heat_values, x=years, y=heat_countries, colorscale="Cividis", zmin=0, zmax=1,
                         xgap=1, ygap=1, xaxis="x3", yaxis="y3",
                         colorbar=dict(lenmode="pixels", len=476, thickness=10, x=1961 / 2010, xanchor="left",
                                       y=33 / 1550, yanchor="bottom", ypad=0, xpad=0, outlinewidth=0,
                                       tickvals=[0, .25, .5, .75, 1], tickformat=".2f", ticks="inside", ticklen=3,
                                       tickcolor="#ffffff",
                                       tickfont=dict(family="Liberation Serif", size=13, color="#444444"),
                                       title=dict(text="value", side="top",
                                                  font=dict(family="Liberation Serif", size=13, color="#333333")))))

annotations = []
for i, p in enumerate(mcp_percent):
    annotations.append(dict(x=999 / 2010, xref="paper", xanchor="left", y=bar_countries[i], yref="y2",
                            yshift=10 - 0.5 * i, text=p, showarrow=False,
                            font=dict(family="Liberation Sans", size=18, color="#666666")))
annotations.append(dict(x=999 / 2010, y=1 - 1082 / 1550, xref="paper", yref="paper", xanchor="left", yanchor="middle",
                        text="<b>MCP %</b>", showarrow=False,
                        font=dict(family="Liberation Sans", size=19, color="#666666")))
annotations.append(dict(x=587 / 2010, y=1 - 1078 / 1550, xref="paper", yref="paper", xanchor="center",
                        yanchor="middle", text="International Collaboration Percentage", showarrow=False,
                        font=dict(family="Noto Sans", size=23, color="#111111")))
annotations.append(dict(x=1602 / 2010, y=1 - 1038 / 1550, xref="paper", yref="paper", xanchor="center",
                        yanchor="middle", text="<b>Countries/regions publication trends</b>", showarrow=False,
                        font=dict(family="Liberation Sans", size=26, color="#111111")))
for letter, px, py in [("A", 56, 28), ("B", 55, 1023), ("C", 1105, 1023)]:
    annotations.append(dict(x=px / 2010, y=1 - py / 1550, xref="paper", yref="paper", text="<b>%s</b>" % letter,
                            xanchor="center", yanchor="middle", showarrow=False,
                            font=dict(family="Open Sans", size=52, color="#000000")))

fig.update_layout(
    width=2010, height=1550, margin=dict(l=0, r=0, t=0, b=0, autoexpand=False), paper_bgcolor="white",
    plot_bgcolor="white", barmode="stack", bargap=0.11, annotations=annotations,
    xaxis=dict(domain=[0, 1], range=[0, 2010], visible=False),
    yaxis=dict(domain=[1 - 1000 / 1550, 1], range=[1000, 0], visible=False),
    # the printed ticks in the reference sit about 27 units right of the bar origin
    xaxis2=dict(domain=[193.5 / 2010, 959 / 2010], range=[0, 1958], anchor="y2",
                tickvals=[t + 27 for t in bar_ticks], ticktext=[str(t) for t in bar_ticks],
                ticks="outside", ticklen=5, tickcolor="#666666", showline=True, linecolor="#666666", linewidth=2.5,
                showgrid=False, zeroline=False, tickfont=dict(family="Liberation Sans", size=17, color="#7f7f7f"),
                title=dict(text="Number of Publications", standoff=8,
                           font=dict(family="Liberation Sans", size=20.5, color="#7f7f7f"))),
    yaxis2=dict(domain=[66 / 1550, 438 / 1550], range=[9.78, -0.5], anchor="x2", categoryorder="array",
                categoryarray=bar_countries, showgrid=True, gridcolor="#f0f0f0", gridwidth=3, zeroline=False,
                ticks="", ticklabelstandoff=5, tickfont=dict(family="Liberation Sans", size=20.5, color="#7f7f7f")),
    xaxis3=dict(domain=[1264 / 2010, 1923 / 2010], range=[1984.5, 2024.5], anchor="y3", tickmode="linear",
                tick0=1985, dtick=3, tickangle=-65, ticks="outside", ticklen=3, tickcolor="#444444", showgrid=False,
                zeroline=False, tickfont=dict(family="Liberation Sans", size=15, weight="bold", color="#4d4d4d")),
    yaxis3=dict(domain=[48 / 1550, 492 / 1550], anchor="x3", autorange="reversed", ticks="outside", ticklen=4,
                tickmode="linear", dtick=1, tick0=0,
                tickcolor="#444444", showgrid=False, zeroline=False,
                tickfont=dict(family="Liberation Sans", size=16, weight="bold", color="#4d4d4d")),
    legend=dict(x=707 / 2010, y=1 - 1388 / 1550, xanchor="left", yanchor="top", bgcolor="rgba(0,0,0,0)",
                traceorder="grouped", tracegroupgap=10, itemwidth=30,
                font=dict(family="Liberation Serif", size=13, color="#555555")),
    shapes=[dict(type="rect", xref="x3 domain", yref="y3 domain", x0=0, x1=1, y0=0, y1=1, layer="below",
                 fillcolor="#8a9abb", line=dict(width=0))],
)

fig.write_html("out.html", post_script='document.body.style.margin="0";', config={"displayModeBar": False})
